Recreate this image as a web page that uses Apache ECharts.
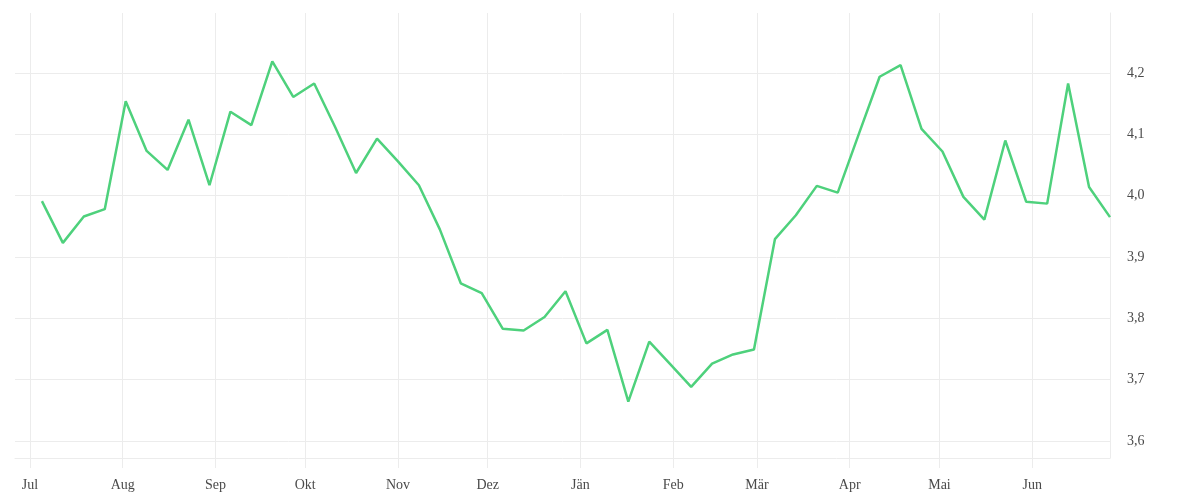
<!DOCTYPE html>
<html>
<head>
<meta charset="utf-8">
<script src="https://cdn.jsdelivr.net/npm/echarts@6/dist/echarts.min.js"></script>
<style>html,body{margin:0;padding:0;background:#fff}#c{width:1200px;height:500px}</style>
</head>
<body>
<div id="c"></div>
<script>
// weekly dates (first point) and values
const startDate = '2022-07-05';
const values = [
  3.991, 3.923, 3.966, 3.978, 4.154, 4.073, 4.042, 4.124, 4.017, 4.137,
  4.115, 4.219, 4.161, 4.183, 4.112, 4.037, 4.093, 4.056, 4.017, 3.945,
  3.857, 3.841, 3.783, 3.780, 3.802, 3.844, 3.759, 3.781, 3.664, 3.762,
  3.725, 3.688, 3.726, 3.741, 3.749, 3.929, 3.968, 4.016, 4.005, 4.100,
  4.194, 4.213, 4.109, 4.072, 3.998, 3.961, 4.090, 3.990, 3.987, 4.183,
  4.014, 3.965
];
const monthLabels = ['Jän','Feb','Mär','Apr','Mai','Jun','Jul','Aug','Sep','Okt','Nov','Dez'];
const xMin = '2022-06-26';
const xMax = '2023-06-27';
const yMin = 3.572;
const yMax = 4.298;

const DAY = 86400000;
const t0 = Date.parse(startDate + 'T00:00:00');
const data = values.map((v, i) => [t0 + i * 7 * DAY, v]);

const gridColor = '#ececec';
const textColor = '#4a4a4a';
const font = '"Liberation Serif", serif';

const chart = echarts.init(document.getElementById('c'));
chart.setOption({
  animation: false,
  grid: { left: 15, right: 90, top: 13, bottom: 42, containLabel: false },
  xAxis: {
    type: 'time',
    min: Date.parse(xMin + 'T00:00:00'),
    max: Date.parse(xMax + 'T00:00:00'),
    splitNumber: 12,
    minInterval: 28 * DAY,
    maxInterval: 31 * DAY,
    axisLine: { show: true, lineStyle: { color: gridColor, width: 1 } },
    axisTick: { show: true, length: 10, lineStyle: { color: gridColor } },
    splitLine: { show: true, showMinLine: false, showMaxLine: false, lineStyle: { color: gridColor, width: 1 } },
    axisLabel: {
      show: true, margin: 20, color: textColor, fontFamily: font, fontSize: 14,
      showMinLabel: false, showMaxLabel: false, hideOverlap: false,
      formatter: function (v) { return monthLabels[new Date(v).getMonth()]; }
    }
  },
  yAxis: {
    type: 'value',
    position: 'right',
    min: yMin,
    max: yMax,
    splitNumber: 5,
    axisLine: { show: true, lineStyle: { color: gridColor, width: 1 } },
    axisTick: { show: false },
    splitLine: { show: true, showMinLine: false, showMaxLine: false, lineStyle: { color: gridColor, width: 1 } },
    axisLabel: {
      show: true, margin: 17, color: textColor, fontFamily: font, fontSize: 14,
      showMinLabel: false, showMaxLabel: false,
      formatter: function (v) { return v.toFixed(1).replace('.', ','); }
    }
  },
  series: [{
    type: 'line',
    data: data,
    showSymbol: false,
    symbol: 'none',
    lineStyle: { color: '#4ed17c', width: 2.5 },
    itemStyle: { color: '#4ed17c' }
  }]
});
</script>
</body>
</html>
